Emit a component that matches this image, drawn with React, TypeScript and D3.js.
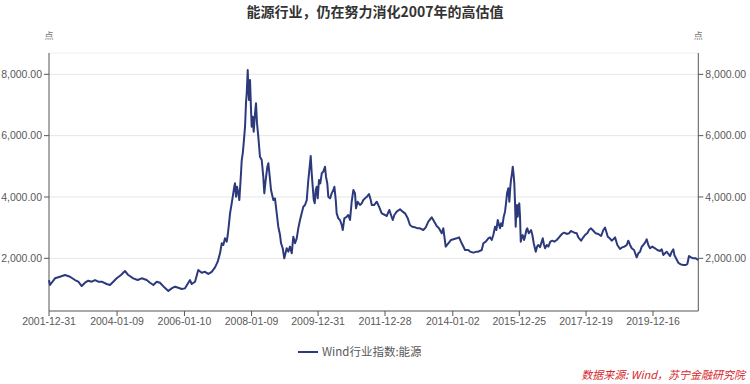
import React from "react";
import * as d3 from "d3";

const W = 750;
const H = 384;

const titleText = "能源行业，仍在努力消化2007年的高估值";
const seriesName = "Wind行业指数:能源";
const sourceText = "数据来源: Wind，苏宁金融研究院";
const unitLabel = "点";

const xTickLabels = [
  "2001-12-31", "2004-01-09", "2006-01-10", "2008-01-09", "2009-12-31",
  "2011-12-28", "2014-01-02", "2015-12-25", "2017-12-19", "2019-12-16",
];
const yTicks = [2000, 4000, 6000, 8000];
const yDomain: [number, number] = [282, 8695];
const xDomain = ["2001-12-31", "2021-04-21"];

const dates = [
  "2001-12-31", "2002-01-11", "2002-03-06", "2002-04-29", "2002-06-23", "2002-08-16", "2002-10-09", "2002-11-14", "2002-12-21",
  "2003-01-26", "2003-03-03", "2003-04-09", "2003-05-15", "2003-06-19", "2003-07-26", "2003-09-19", "2003-10-24", "2003-11-29",
  "2004-01-05", "2004-02-21", "2004-04-04", "2004-05-10", "2004-07-03", "2004-08-20", "2004-10-03", "2004-11-26",
  "2005-01-01", "2005-02-06", "2005-03-15", "2005-04-19", "2005-06-05", "2005-07-19", "2005-08-24", "2005-09-29", "2005-11-04", "2005-12-11",
  "2006-01-16", "2006-02-21", "2006-03-11", "2006-03-30", "2006-05-05", "2006-06-09", "2006-07-16", "2006-08-21", "2006-09-26", "2006-11-02", "2006-12-08",
  "2007-01-06", "2007-01-31", "2007-02-19", "2007-03-08", "2007-03-26", "2007-04-14", "2007-04-25", "2007-05-09", "2007-05-20", "2007-06-07",
  "2007-06-24", "2007-07-05", "2007-07-13", "2007-07-24", "2007-08-04", "2007-08-18", "2007-08-29", "2007-09-16", "2007-09-24", "2007-10-05",
  "2007-10-15", "2007-10-30", "2007-11-09", "2007-11-17", "2007-11-28", "2007-12-04", "2007-12-12", "2007-12-23",
  "2008-01-03", "2008-01-10", "2008-01-21", "2008-02-01", "2008-02-15", "2008-02-26", "2008-03-08", "2008-03-22", "2008-04-09", "2008-04-28",
  "2008-05-15", "2008-05-26", "2008-06-10", "2008-06-28", "2008-07-09", "2008-07-24", "2008-08-07", "2008-09-01", "2008-09-19", "2008-10-08",
  "2008-10-25", "2008-11-13", "2008-11-24", "2008-12-12", "2008-12-29",
  "2009-01-24", "2009-02-11", "2009-03-01", "2009-03-20", "2009-04-06", "2009-04-25", "2009-05-13", "2009-05-30", "2009-06-18", "2009-07-06",
  "2009-07-24", "2009-08-11", "2009-08-30", "2009-09-16", "2009-10-01", "2009-10-12", "2009-10-23", "2009-11-03", "2009-11-14", "2009-11-25",
  "2009-12-05", "2009-12-16", "2009-12-27",
  "2010-01-10", "2010-01-24", "2010-02-09", "2010-02-26", "2010-03-16", "2010-03-27", "2010-04-10", "2010-04-21", "2010-05-10", "2010-05-28",
  "2010-06-15", "2010-06-26", "2010-07-11", "2010-07-21", "2010-08-08", "2010-08-26", "2010-09-14", "2010-09-25", "2010-10-12", "2010-11-07",
  "2010-11-24", "2010-12-13", "2010-12-31",
  "2011-01-18", "2011-02-05", "2011-02-16", "2011-03-06", "2011-03-31", "2011-04-19", "2011-05-06", "2011-05-25", "2011-06-15", "2011-07-07",
  "2011-07-26", "2011-08-06", "2011-08-31", "2011-09-29", "2011-10-24", "2011-11-22", "2011-12-28",
  "2012-01-15", "2012-02-13", "2012-03-02", "2012-03-21", "2012-04-07", "2012-05-03", "2012-06-08", "2012-07-07", "2012-08-01", "2012-08-31",
  "2012-09-24", "2012-10-19", "2012-11-18", "2012-12-17",
  "2013-01-11", "2013-02-16", "2013-03-14", "2013-04-11", "2013-05-18", "2013-06-15", "2013-07-11", "2013-08-05", "2013-09-04", "2013-09-21",
  "2013-10-17", "2013-11-14", "2013-12-14",
  "2014-01-08", "2014-02-14", "2014-03-11", "2014-04-09", "2014-05-15", "2014-06-20", "2014-07-08", "2014-08-13", "2014-09-19", "2014-10-06",
  "2014-11-12", "2014-11-30", "2014-12-26",
  "2015-01-23", "2015-02-10", "2015-03-01", "2015-03-18", "2015-04-06", "2015-04-20", "2015-05-05", "2015-05-19", "2015-05-30", "2015-06-10",
  "2015-06-24", "2015-07-09", "2015-07-23", "2015-08-03", "2015-08-14", "2015-08-28", "2015-09-08", "2015-09-19", "2015-09-26", "2015-10-07",
  "2015-10-15", "2015-10-25", "2015-11-01", "2015-11-09", "2015-11-16", "2015-11-23", "2015-11-30", "2015-12-08", "2015-12-14", "2015-12-25",
  "2016-01-02", "2016-01-10", "2016-01-21", "2016-01-31", "2016-02-15", "2016-02-25", "2016-03-11", "2016-03-21", "2016-04-05", "2016-04-20",
  "2016-05-01", "2016-05-15", "2016-05-30", "2016-06-21", "2016-07-05", "2016-07-19", "2016-08-06", "2016-08-25", "2016-09-05", "2016-09-19",
  "2016-09-30", "2016-10-18", "2016-11-05", "2016-11-26", "2016-12-18",
  "2017-01-09", "2017-02-04", "2017-03-01", "2017-03-22", "2017-04-10", "2017-04-27", "2017-05-23", "2017-06-17", "2017-07-06", "2017-07-23",
  "2017-08-14", "2017-09-09", "2017-09-26", "2017-10-26", "2017-11-19", "2017-12-08",
  "2018-01-06", "2018-01-20", "2018-02-11", "2018-03-08", "2018-04-03", "2018-05-01", "2018-05-31", "2018-06-25", "2018-07-13", "2018-07-27",
  "2018-08-12", "2018-09-02", "2018-09-24", "2018-10-11", "2018-10-30", "2018-11-24", "2018-12-23",
  "2019-01-17", "2019-02-08", "2019-03-06", "2019-03-23", "2019-04-11", "2019-04-29", "2019-05-24", "2019-06-22", "2019-07-10", "2019-07-28",
  "2019-08-16", "2019-09-02", "2019-09-21", "2019-10-09", "2019-10-26", "2019-11-14", "2019-12-09",
  "2020-01-07", "2020-02-01", "2020-03-01", "2020-03-20", "2020-04-06", "2020-04-25", "2020-05-13", "2020-05-31", "2020-06-18", "2020-07-07",
  "2020-07-24", "2020-08-04", "2020-08-22", "2020-09-16", "2020-10-12", "2020-11-10", "2020-12-06", "2020-12-23",
  "2021-01-10", "2021-02-01", "2021-02-26", "2021-03-24", "2021-04-21",
];

const energyIndex = [
  1290, 1130, 1348, 1400, 1455, 1400, 1292, 1237, 1097,
  1204, 1270, 1237, 1292, 1237, 1237, 1162, 1129, 1237,
  1348, 1455, 1586, 1455, 1348, 1292, 1348, 1292,
  1204, 1129, 1237, 1204, 1054, 934, 1020, 1074, 1040, 999,
  1020, 1204, 1292, 1162, 1237, 1618, 1530, 1560, 1490, 1560, 1706,
  1890, 2163, 2490, 2435, 2652, 2543, 2760, 3141, 3467, 3794,
  4120, 4335, 4446, 4010, 4335, 4120, 3900, 4772, 5205, 5422,
  5750, 6292, 7055, 7380, 8140, 7596, 7162, 7814,
  6836, 6292, 6618, 6128, 6728, 7055, 6400, 5965, 5313, 5205,
  4661, 4120, 4553, 4987, 5098, 4661, 4227, 3900, 3955, 3467,
  3030, 2760, 2490, 2327, 2000,
  2327, 2218, 2381, 2163, 2705, 2490, 2652, 2978, 3249, 3467,
  3683, 3738, 3900, 4553, 4987, 5336, 4770, 4335, 3900, 3794,
  4227, 4335, 3955,
  4553, 4444, 4772, 4826, 4987, 4661, 4444, 4009, 3955, 4118,
  4227, 4335, 3900, 3467, 3303, 3249, 3086, 2923, 3303, 3357,
  3412, 3249, 3846,
  4227, 4118, 3630, 3846, 3738, 3792, 3900, 3955, 4009, 4097,
  3900, 3738, 3738, 3846, 3683, 3467, 3412,
  3379, 3575, 3412, 3249, 3412, 3521, 3598, 3521, 3467, 3303,
  3086, 3030, 3010, 2978,
  2978, 2923, 3010, 3194, 3337, 3194, 3052, 2978, 2815, 2978,
  2381, 2490, 2598,
  2620, 2652, 2685, 2490, 2271, 2271, 2218, 2185, 2218, 2215,
  2271, 2490, 2544,
  2652, 2685, 2598, 2760, 3030, 2923, 3249, 3086, 2978, 3141,
  3053, 3357, 3521, 3792, 4118, 4282, 3846, 4335, 4553, 4770,
  4987, 4716, 4446, 3792, 3030, 3575, 3738, 3357, 3630, 3792,
  3357, 2541, 2705, 2760, 2598, 2705, 2923, 2978, 2815, 2868,
  2923, 2760, 2490, 2215, 2381, 2435, 2360, 2544, 2652, 2435,
  2327, 2435, 2381, 2544, 2574,
  2544, 2598, 2685, 2760, 2815, 2836, 2793, 2815, 2890, 2868,
  2836, 2815, 2685, 2574, 2685, 2760,
  2836, 2923, 2978, 2900, 2815, 2793, 2727, 2923, 3000, 2868,
  2705, 2652, 2574, 2620, 2685, 2435, 2303,
  2360, 2381, 2435, 2574, 2435, 2327, 2271, 2033, 2163, 2215,
  2381, 2435, 2510, 2620, 2435, 2327, 2381,
  2327, 2271, 2240, 2293, 2110, 2163, 2215, 2141, 2075, 2215,
  2293, 2110, 2000, 1857, 1803, 1782, 1782, 1815,
  2075, 2033, 2000, 2000, 1945,
];

const LINE_COLOR = "#2c3a7c";
const AXIS_COLOR = "#555";
const LABEL_COLOR = "#595959";
const GRID_COLOR = "#e6e6e6";
const LABEL_FONT = "'Liberation Sans', Arial, 'Noto Sans CJK SC', sans-serif";
const CJK_FONT = "'Noto Sans CJK SC', 'Liberation Sans', sans-serif";

const plot = { left: 49, right: 698.3, top: 53, bottom: 311 };

export default function App() {
  const parse = d3.timeParse("%Y-%m-%d");
  const x = d3
    .scaleTime()
    .domain(xDomain.map((d) => parse(d) as Date))
    .range([plot.left, plot.right]);
  const y = d3.scaleLinear().domain(yDomain).range([plot.bottom, plot.top]);
  const fmt = d3.format(",.2f");

  const points = dates.map((d, i) => ({ date: parse(d) as Date, value: energyIndex[i] }));
  const line = d3
    .line<{ date: Date; value: number }>()
    .x((d) => x(d.date))
    .y((d) => y(d.value));

  return (
    <svg
      width={W}
      height={H}
      style={{ position: "fixed", left: 0, top: 0, background: "#fff" }}
    >
      <rect x={0} y={0} width={W} height={H} fill="#fff" />
      <text
        x={W / 2}
        y={17}
        textAnchor="middle"
        fontFamily={CJK_FONT}
        fontWeight="bold"
        fontSize={14}
        fill="#333"
      >
        {titleText}
      </text>

      {/* unit labels */}
      <text x={plot.left} y={39} textAnchor="middle" fontFamily={CJK_FONT} fontSize={9} fill="#777">
        {unitLabel}
      </text>
      <text x={plot.right} y={39} textAnchor="middle" fontFamily={CJK_FONT} fontSize={9} fill="#777">
        {unitLabel}
      </text>

      {/* grid */}
      <line x1={plot.left} x2={plot.right} y1={y(yDomain[1])} y2={y(yDomain[1])} stroke="#f0f0f0" />
      {yTicks.map((t) => (
        <line key={"g" + t} x1={plot.left} x2={plot.right} y1={y(t)} y2={y(t)} stroke={GRID_COLOR} />
      ))}

      {/* axes */}
      <line x1={plot.left} x2={plot.left} y1={plot.top} y2={plot.bottom} stroke={AXIS_COLOR} />
      <line x1={plot.right} x2={plot.right} y1={plot.top} y2={plot.bottom} stroke={AXIS_COLOR} />
      <line x1={plot.left} x2={plot.right} y1={plot.bottom} y2={plot.bottom} stroke={AXIS_COLOR} />

      {yTicks.map((t) => (
        <g key={"yl" + t}>
          <line x1={plot.left - 5} x2={plot.left} y1={y(t)} y2={y(t)} stroke={AXIS_COLOR} />
          <text
            x={plot.left - 7}
            y={y(t)}
            dy="0.35em"
            textAnchor="end"
            fontFamily={LABEL_FONT}
            fontSize={10.5}
            fill={LABEL_COLOR}
          >
            {fmt(t)}
          </text>
          <line x1={plot.right} x2={plot.right + 5} y1={y(t)} y2={y(t)} stroke={AXIS_COLOR} />
          <text
            x={plot.right + 7}
            y={y(t)}
            dy="0.35em"
            textAnchor="start"
            fontFamily={LABEL_FONT}
            fontSize={10.5}
            fill={LABEL_COLOR}
          >
            {fmt(t)}
          </text>
        </g>
      ))}

      {xTickLabels.map((lbl) => {
        const px = x(parse(lbl) as Date);
        return (
          <g key={lbl}>
            <line x1={px} x2={px} y1={plot.bottom} y2={plot.bottom + 5} stroke={AXIS_COLOR} />
            <text
              x={px}
              y={plot.bottom + 14}
              textAnchor="middle"
              fontFamily={LABEL_FONT}
              fontSize={10.5}
              fill={LABEL_COLOR}
            >
              {lbl}
            </text>
          </g>
        );
      })}

      <path
        d={line(points) || ""}
        fill="none"
        stroke={LINE_COLOR}
        strokeWidth={2}
        strokeLinejoin="round"
      />

      {/* legend */}
      <line x1={298} x2={318} y1={352} y2={352} stroke={LINE_COLOR} strokeWidth={2} />
      <text x={322} y={356} fontFamily={CJK_FONT} fontSize={11.5} fill={LABEL_COLOR}>
        {seriesName}
      </text>

      {/* source */}
      <text
        x={745}
        y={379}
        textAnchor="end"
        fontFamily={CJK_FONT}
        fontStyle="italic"
        fontSize={11}
        fill="#d7262b"
      >
        {sourceText}
      </text>
    </svg>
  );
}
